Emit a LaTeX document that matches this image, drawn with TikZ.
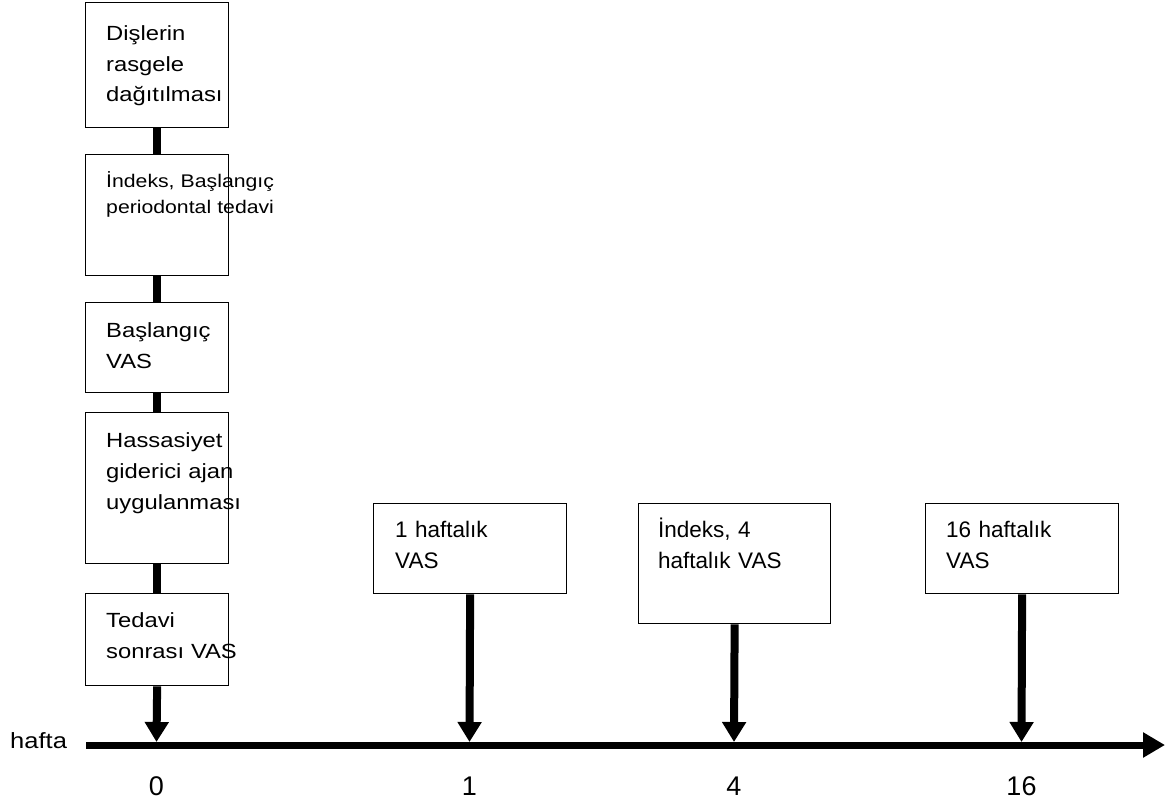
\documentclass[tikz,border=0pt]{standalone}
\usepackage{fontspec}
\setmainfont{Liberation Sans}
\newfontfamily\widefont[FakeStretch=1.16]{Liberation Sans}
\usetikzlibrary{arrows.meta}
\tikzset{
  box/.style={draw=black, line width=1.3pt, rectangle, inner sep=0pt, anchor=north west},
  lbl/.style={inner sep=0pt, anchor=base west, align=left, text width=200pt, font=\widefont\fontsize{20.5}{31}\selectfont},
  lblsmall/.style={lbl, font=\widefont\fontsize{18.3}{26}\selectfont},
  rlbl/.style={lbl, font=\fontsize{22.5}{31}\selectfont},
  link/.style={line width=8pt},
  down/.style={line width=8pt, -{Triangle[length=20pt,width=23pt]}},
  axis/.style={line width=7pt, -{Triangle[length=22pt,width=24pt]}},
  tick/.style={inner sep=0pt, anchor=base, font=\fontsize{27}{30}\selectfont},
}
\begin{document}
\begin{tikzpicture}[x=1pt,y=-1pt]
\useasboundingbox (0,0) rectangle (1173,803);
% left column boxes
\node[box, minimum width=143pt, minimum height=125pt] (b1) at (85,2) {};
\node[box, minimum width=143pt, minimum height=121pt] (b2) at (85,154) {};
\node[box, minimum width=143pt, minimum height=90pt] (b3) at (85,302) {};
\node[box, minimum width=143pt, minimum height=151pt] (b4) at (85,412) {};
\node[box, minimum width=143pt, minimum height=92pt] (b5) at (85,593) {};
\node[lbl] (t1) at (106,40) {Dişlerin\\rasgele\\dağıtılması};
\node[lblsmall] (t2) at (106,187) {İndeks, Başlangıç\\periodontal tedavi};
\node[lbl] (t3) at (106,337) {Başlangıç\\VAS};
\node[lbl] (t4) at (106,447) {Hassasiyet\\giderici ajan\\uygulanması};
\node[lbl] (t5) at (106,627) {Tedavi\\sonrası VAS};
% right boxes
\node[box, minimum width=193pt, minimum height=90pt] (w1) at (373,503) {};
\node[box, minimum width=192pt, minimum height=120pt] (w4) at (638,503) {};
\node[box, minimum width=193pt, minimum height=90pt] (w16) at (925,503) {};
\node[rlbl] (tw1) at (395,537) {1 haftalık\\VAS};
\node[rlbl] (tw4) at (658,537) {İndeks, 4\\haftalık VAS};
\node[rlbl] (tw16) at (946,537) {16 haftalık\\VAS};
% axis
\coordinate (ax0) at (86,745);
\coordinate (ax1) at (1165,745);
\draw[axis] (ax0) -- (ax1);
\coordinate (p0) at (156.5,742);
\coordinate (p1) at (469.5,742);
\coordinate (p4) at (734,742);
\coordinate (p16) at (1021.5,742);
% connectors
\draw[link] (b1.south) -- (b2.north);
\draw[link] (b2.south) -- (b3.north);
\draw[link] (b3.south) -- (b4.north);
\draw[link] (b4.south) -- (b5.north);
\draw[down] (b5.south) -- (p0);
\draw[down] (w1.south) -- (p1);
\draw[down] (w4.south) -- (p4);
\draw[down] (w16.south) -- (p16);
% labels
\node[inner sep=0pt, anchor=base west, font=\widefont\fontsize{22}{28}\selectfont] (hafta) at (10,748) {hafta};
\node[tick] (n0) at (156.5,795) {0};
\node[tick] (n1) at (469.5,795) {1};
\node[tick] (n4) at (734,795) {4};
\node[tick] (n16) at (1021.5,795) {16};
\end{tikzpicture}
\end{document}
